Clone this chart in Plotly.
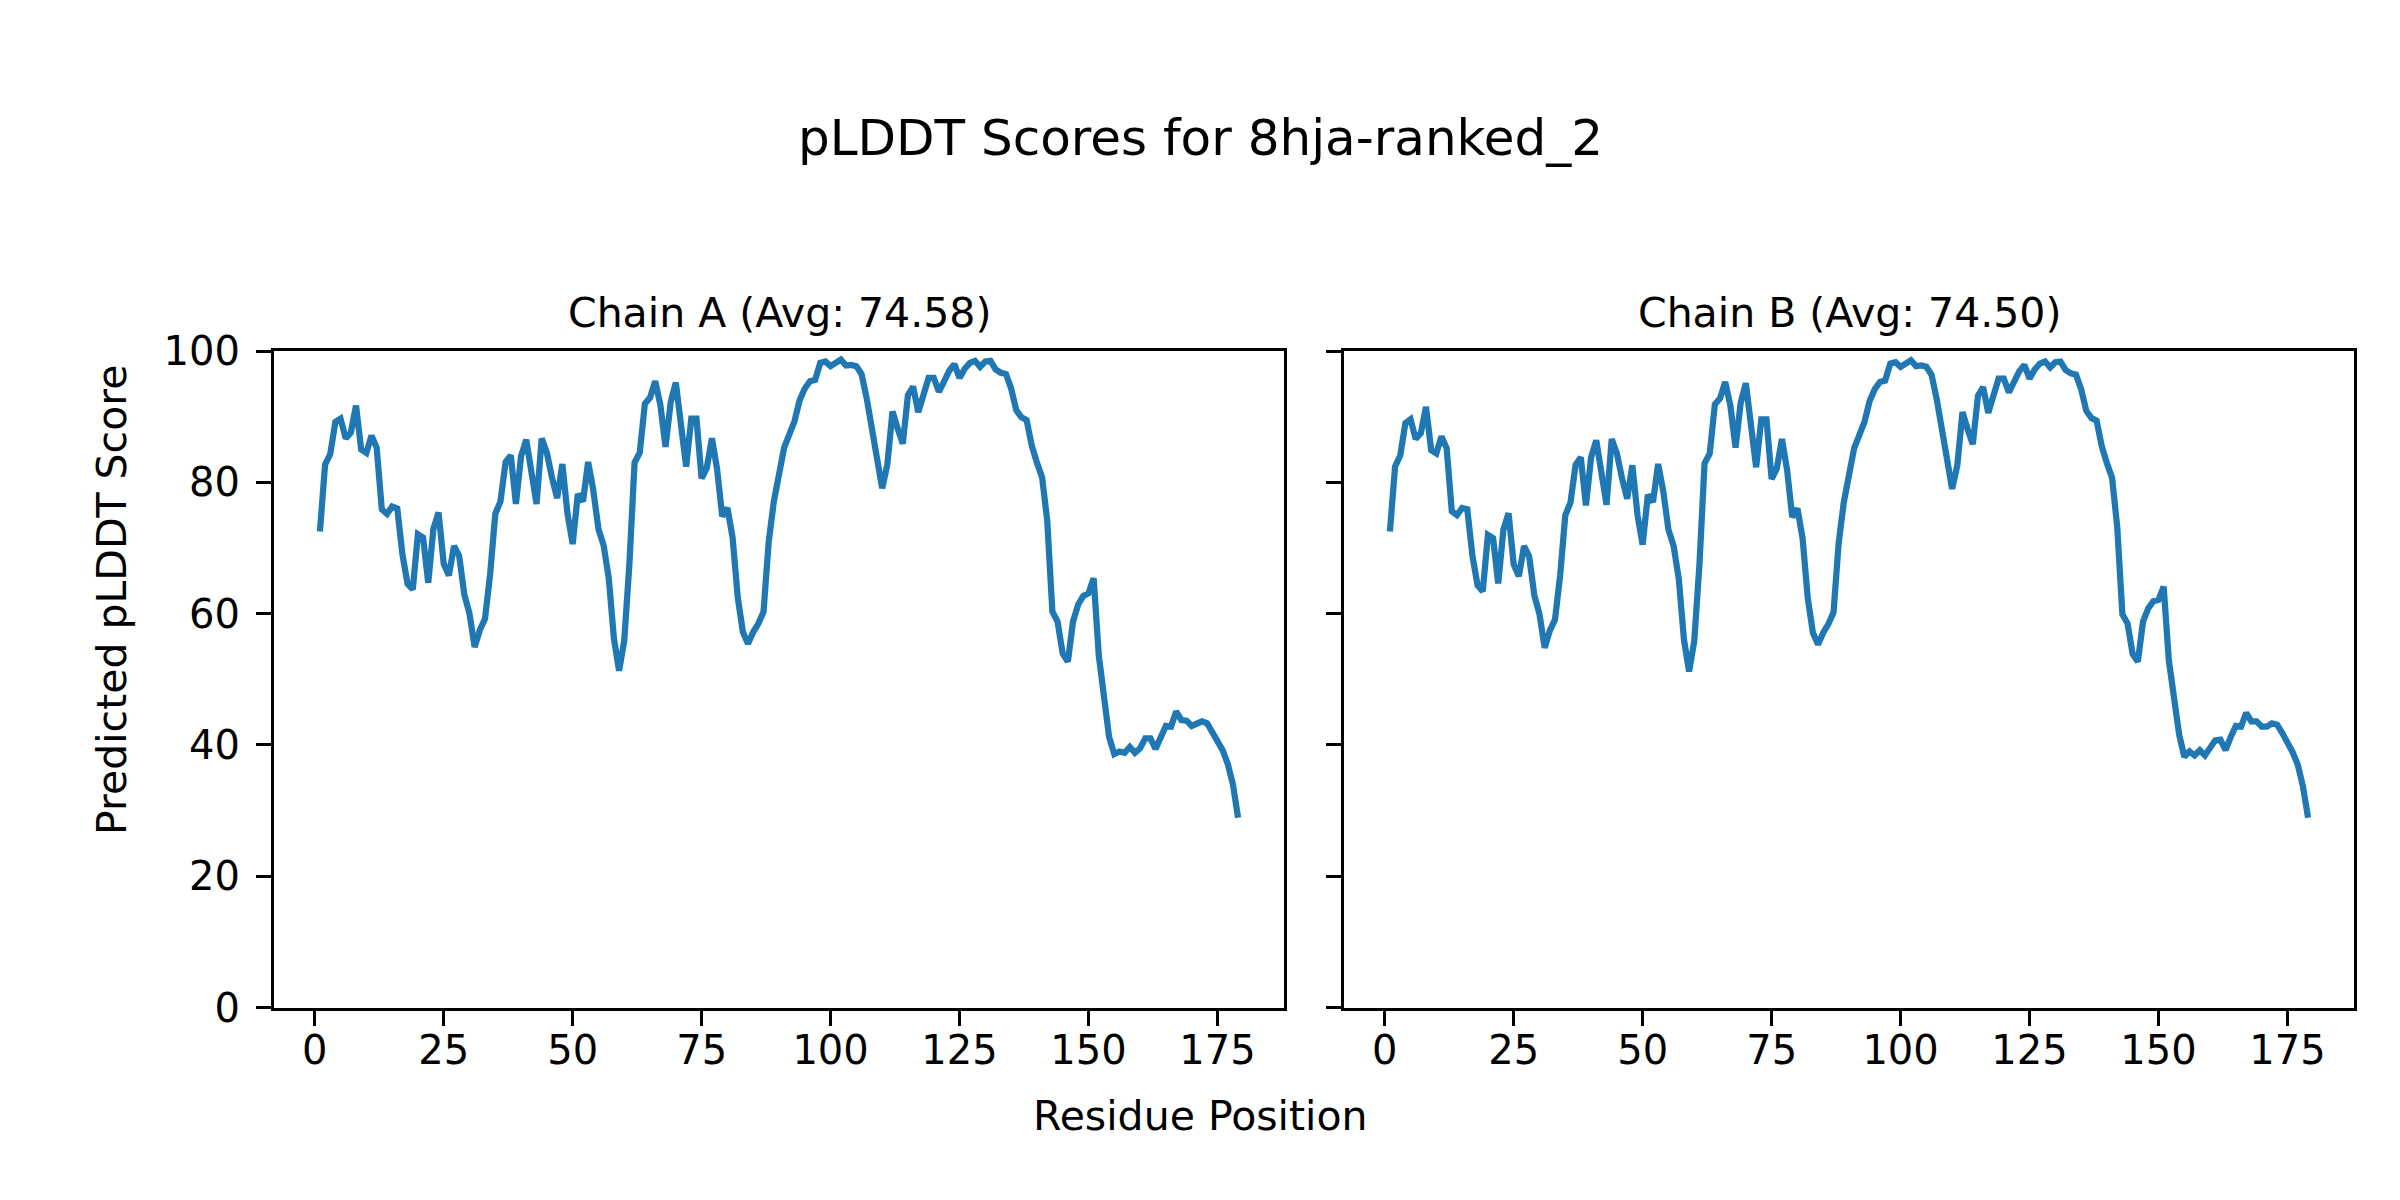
import plotly.graph_objects as go

residues = list(range(1, 180))

chain_a = [
    72.5, 82.7, 84.3, 89.2, 89.7, 86.7, 87.6, 91.7, 85.0, 84.5,
    87.1, 85.3, 75.9, 75.2, 76.3, 76.0, 69.0, 64.5, 63.7, 72.1,
    71.6, 64.7, 72.9, 75.4, 67.6, 65.8, 70.3, 68.8, 62.9, 60.0,
    54.9, 57.5, 59.2, 66.0, 75.2, 77.1, 83.1, 84.1, 76.7, 84.0,
    86.5, 81.6, 76.7, 86.7, 84.5, 80.7, 77.6, 82.8, 75.2, 70.6,
    78.2, 77.1, 83.1, 78.8, 72.9, 70.4, 65.4, 56.2, 51.3, 55.9,
    67.6, 83.0, 84.5, 92.0, 92.9, 95.4, 91.8, 85.4, 92.2, 95.2,
    87.9, 82.4, 89.7, 89.7, 80.6, 82.2, 86.7, 82.0, 74.8, 76.1,
    71.6, 62.5, 57.2, 55.4, 57.2, 58.5, 60.3, 70.9, 77.1, 81.7,
    85.3, 87.3, 89.3, 92.5, 94.3, 95.4, 95.6, 98.2, 98.4, 97.7,
    98.2, 98.7, 97.8, 97.9, 97.7, 96.5, 92.8, 88.2, 83.3, 79.1,
    82.7, 90.8, 88.2, 85.9, 93.3, 94.6, 90.7, 93.5, 95.9, 95.9,
    93.8, 95.4, 97.0, 98.0, 95.9, 97.3, 98.2, 98.5, 97.6, 98.4,
    98.5, 97.2, 96.7, 96.5, 94.3, 91.0, 89.9, 89.5, 85.6, 83.0,
    80.8, 74.2, 60.3, 58.8, 53.9, 52.7, 58.8, 61.4, 62.7, 63.1,
    65.4, 53.6, 47.1, 41.2, 38.6, 39.0, 38.8, 39.7, 38.8, 39.5,
    41.0, 41.0, 39.4, 41.2, 42.9, 42.8, 45.1, 43.8, 43.7, 42.9,
    43.3, 43.6, 43.3, 41.8, 40.8, 39.2, 37.1, 34.0, 28.9,
]

chain_b = [
    72.5, 82.4, 84.1, 89.0, 89.6, 86.6, 87.5, 91.5, 84.9, 84.4,
    87.0, 85.2, 75.6, 75.0, 76.1, 75.9, 68.8, 64.3, 63.4, 72.0,
    71.5, 64.6, 72.8, 75.3, 67.5, 65.7, 70.3, 68.7, 62.8, 59.9,
    54.8, 57.4, 59.1, 65.8, 75.0, 76.9, 82.7, 83.8, 76.5, 83.8,
    86.4, 81.4, 76.6, 86.6, 84.4, 80.6, 77.5, 82.6, 75.0, 70.5,
    78.1, 77.0, 82.8, 78.6, 72.8, 70.3, 65.3, 56.1, 51.2, 55.8,
    67.4, 82.9, 84.4, 91.9, 92.8, 95.3, 91.7, 85.3, 92.1, 95.1,
    87.8, 82.3, 89.6, 89.6, 80.5, 82.1, 86.6, 81.9, 74.7, 76.0,
    71.5, 62.4, 57.1, 55.3, 57.1, 58.4, 60.2, 70.8, 77.0, 81.6,
    85.2, 87.2, 89.2, 92.4, 94.2, 95.3, 95.5, 98.1, 98.3, 97.6,
    98.1, 98.6, 97.7, 97.8, 97.6, 96.4, 92.7, 88.1, 83.2, 79.0,
    82.6, 90.7, 88.1, 85.8, 93.2, 94.5, 90.6, 93.4, 95.8, 95.8,
    93.7, 95.3, 96.9, 97.9, 95.8, 97.2, 98.1, 98.4, 97.5, 98.3,
    98.4, 97.1, 96.6, 96.4, 94.2, 90.9, 89.8, 89.4, 85.5, 82.9,
    80.7, 73.2, 59.9, 58.5, 53.8, 52.7, 58.8, 60.8, 61.9, 62.1,
    64.1, 52.9, 46.8, 41.6, 38.2, 39.0, 38.4, 39.2, 38.4, 39.5,
    40.7, 40.8, 39.2, 41.2, 42.9, 42.8, 44.9, 43.6, 43.6, 42.8,
    42.8, 43.3, 43.1, 41.8, 40.5, 38.9, 37.0, 33.7, 28.9,
]

main_title = "pLDDT Scores for 8hja-ranked_2"
subplot_titles = ["Chain A (Avg: 74.58)", "Chain B (Avg: 74.50)"]
x_label = "Residue Position"
y_label = "Predicted pLDDT Score"
x_ticks = [0, 25, 50, 75, 100, 125, 150, 175]
y_ticks = [0, 20, 40, 60, 80, 100]

# The page body keeps the browser's default 8px margin, so the figure is
# sized to fill the 2400x1200 window exactly (2400-16, 1200-16).
OFF = 8
W, H = 2400 - 2 * OFF, 1200 - 2 * OFF
FONT = "DejaVu Sans"
TICK_FS = 40
LABEL_FS = 41
TITLE_FS = 50
LINE_COLOR = "#1f77b4"


def px_x(x):
    return (x - OFF) / W


def px_y(y):
    return 1 - (y - OFF) / H


dom_a = [px_x(274), px_x(1284)]
dom_b = [px_x(1344), px_x(2354)]
dom_y = [px_y(1024), px_y(341)]

fig = go.Figure()
fig.add_trace(go.Scatter(x=residues, y=chain_a, mode="lines",
                         line=dict(color=LINE_COLOR, width=6.25),
                         xaxis="x", yaxis="y", showlegend=False))
fig.add_trace(go.Scatter(x=residues, y=chain_b, mode="lines",
                         line=dict(color=LINE_COLOR, width=6.25),
                         xaxis="x2", yaxis="y2", showlegend=False))

axis_common = dict(
    showgrid=False, zeroline=False, showline=True, linecolor="black",
    linewidth=3.3, mirror=True, ticks="outside", ticklen=15, tickwidth=3.3,
    tickcolor="black", tickfont=dict(family=FONT, size=TICK_FS, color="black"),
)

xr = [-7.9, 187.9]
fig.update_layout(
    width=W, height=H,
    margin=dict(l=0, r=0, t=0, b=0),
    paper_bgcolor="white", plot_bgcolor="white",
    font=dict(family=FONT, color="black"),
    xaxis=dict(domain=dom_a, range=xr, tickvals=x_ticks, anchor="y",
               ticklabelstandoff=-10, **axis_common),
    xaxis2=dict(domain=dom_b, range=xr, tickvals=x_ticks, anchor="y2",
                ticklabelstandoff=-10, **axis_common),
    yaxis=dict(domain=dom_y, range=[0, 100], tickvals=y_ticks, anchor="x",
               ticklabelstandoff=8, **axis_common),
    yaxis2=dict(domain=dom_y, range=[0, 100], tickvals=y_ticks, anchor="x2",
                showticklabels=False, **axis_common),
)

ann = [
    dict(text=main_title, x=px_x(1200), y=px_y(119), xref="paper", yref="paper",
         xanchor="center", yanchor="middle", showarrow=False,
         font=dict(family=FONT, size=TITLE_FS, color="black")),
    dict(text=subplot_titles[0], x=(dom_a[0] + dom_a[1]) / 2, y=px_y(301),
         xref="paper", yref="paper", xanchor="center", yanchor="middle",
         showarrow=False, font=dict(family=FONT, size=LABEL_FS, color="black")),
    dict(text=subplot_titles[1], x=(dom_b[0] + dom_b[1]) / 2, y=px_y(301),
         xref="paper", yref="paper", xanchor="center", yanchor="middle",
         showarrow=False, font=dict(family=FONT, size=LABEL_FS, color="black")),
    dict(text=x_label, x=px_x(1200), y=px_y(1137), xref="paper", yref="paper",
         xanchor="center", yanchor="middle", showarrow=False,
         font=dict(family=FONT, size=LABEL_FS, color="black")),
    dict(text=y_label, x=px_x(112), y=px_y(600), xref="paper", yref="paper",
         xanchor="center", yanchor="middle", showarrow=False, textangle=-90,
         font=dict(family=FONT, size=LABEL_FS, color="black")),
]
fig.update_layout(annotations=ann)

fig.write_html("out.html")
